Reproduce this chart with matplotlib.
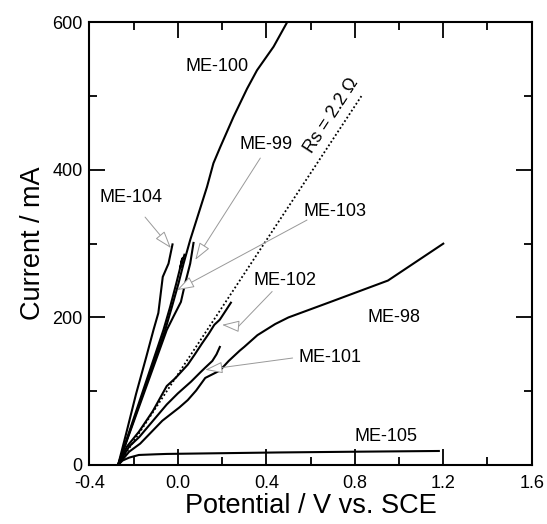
import matplotlib
matplotlib.use("Agg")
import matplotlib.pyplot as plt
from matplotlib.ticker import MultipleLocator

plt.rcParams['font.family'] = ['Liberation Sans', 'DejaVu Sans']

# polarization curves, potential (V vs SCE) / current (mA)
me100_x = [-0.27, -0.057, -0.027, 0.003, 0.026, 0.056, 0.094, 0.132, 0.161, 0.192, 0.252, 0.313, 0.358, 0.433, 0.494]
me100_y = [0, 183, 214, 246, 273, 305, 341, 377, 409, 431, 472, 510, 535, 567, 600]

me104_x = [-0.27, -0.234, -0.189, -0.143, -0.11, -0.088, -0.077, -0.068, -0.042, -0.024]
me104_y = [0, 42, 96, 146, 183, 206, 233, 255, 273, 299]

me99_x = [-0.27, -0.05, -0.02, 0.014, 0.033, 0.056, 0.071]
me99_y = [0, 183, 201, 221, 246, 273, 301]

me103_x = [-0.27, -0.065, -0.035, -0.007, 0.008, 0.02, 0.012, 0.030]
me103_y = [0, 183, 214, 246, 264, 280, 268, 285]

me102_x = [-0.27, -0.23, -0.176, -0.113, -0.05, -0.01, 0.045, 0.077, 0.11, 0.14, 0.165, 0.19, 0.214, 0.240]
me102_y = [0, 25, 45, 73, 107, 118, 136, 150, 165, 178, 190, 197, 208, 220]

me101_x = [-0.27, -0.22, -0.174, -0.098, -0.05, 0.0, 0.06, 0.10, 0.124, 0.156, 0.175, 0.19]
me101_y = [0, 25, 38, 65, 82, 97, 113, 125, 132, 141, 150, 160]

me98_x = [-0.27, -0.22, -0.17, -0.07, 0.007, 0.045, 0.083, 0.124, 0.19, 0.23, 0.28, 0.30, 0.36, 0.44, 0.50, 0.69, 0.95, 1.20]
me98_y = [0, 18, 29, 60, 78, 88, 101, 118, 128, 141, 155, 160, 176, 191, 200, 221, 250, 300]

me105_x = [-0.27, -0.25, -0.22, -0.176, -0.10, -0.05, 0.2, 0.456, 0.8, 1.18]
me105_y = [0, 6, 10, 13.6, 14.5, 15, 16, 17, 18, 19]

rs_x = [-0.27, 0.83]
rs_y = [0, 500]

# plain labels: text, x, y
labels = [("ME-100", 0.177, 540), ("ME-98", 0.977, 200), ("ME-105", 0.94, 38.6)]

# arrow labels: text, label pos, arrow tail, arrow tip
arrow_labels = [
    ("ME-104", (-0.211, 363), (-0.148, 336), (-0.031, 294)),
    ("ME-99", (0.400, 434), (0.373, 416), (0.079, 278)),
    ("ME-103", (0.712, 343), (0.584, 332), (-0.004, 237)),
    ("ME-101", (0.689, 146), (0.519, 145), (0.124, 129)),
]
# ME-102 arrow has a bend
me102_label = (0.486, 250)
me102_path_x = [0.426, 0.275]
me102_path_y = [235, 188]
me102_tip = (0.20, 190)

fig = plt.figure(figsize=(5.47, 5.24), dpi=100)
ax = fig.add_axes([0.1633, 0.1126, 0.8088, 0.8448])

for xs, ys in [(me100_x, me100_y), (me104_x, me104_y), (me99_x, me99_y),
               (me103_x, me103_y), (me102_x, me102_y), (me101_x, me101_y),
               (me98_x, me98_y), (me105_x, me105_y)]:
    ax.plot(xs, ys, color='black', lw=1.5)

ax.plot(rs_x, rs_y, color='black', lw=1.3, linestyle=(0, (1, 1.3)))
ax.text(0.693, 473, "Rs = 2.2 Ω", rotation=57, fontsize=13,
        ha='center', va='center', rotation_mode='anchor')

for t, x, y in labels:
    ax.text(x, y, t, fontsize=13, ha='center', va='center')

aprops = dict(arrowstyle="-|>,head_length=0.9,head_width=0.3", mutation_scale=12,
              fc='white', ec='#999999', lw=0.7, shrinkA=0, shrinkB=0)
for t, lpos, tail, tip in arrow_labels:
    ax.text(lpos[0], lpos[1], t, fontsize=13, ha='center', va='center')
    ax.annotate("", xy=tip, xytext=tail, arrowprops=aprops)

ax.text(me102_label[0], me102_label[1], "ME-102", fontsize=13, ha='center', va='center')
ax.plot(me102_path_x, me102_path_y, color='#999999', lw=0.7)
ax.annotate("", xy=me102_tip, xytext=(me102_path_x[-1], me102_path_y[-1]), arrowprops=aprops)

ax.set_xlim(-0.4, 1.6)
ax.set_ylim(0, 600)
ax.xaxis.set_major_locator(MultipleLocator(0.4))
ax.xaxis.set_minor_locator(MultipleLocator(0.2))
ax.yaxis.set_major_locator(MultipleLocator(200))
ax.yaxis.set_minor_locator(MultipleLocator(100))
ax.xaxis.set_major_formatter(plt.FuncFormatter(lambda v, p: "%.1f" % v))
ax.tick_params(which='both', direction='in', top=True, right=True, labelsize=13, width=1.3)
ax.tick_params(which='major', length=11.3)
ax.tick_params(which='minor', length=5.8)
ax.tick_params(axis='x', pad=7)
ax.tick_params(axis='y', pad=5)
for s in ax.spines.values():
    s.set_linewidth(1.5)

ax.set_xlabel("Potential / V vs. SCE", fontsize=19.5, labelpad=1)
ax.set_ylabel("Current / mA", fontsize=19.5, labelpad=4)

fig.savefig("out.png", dpi=100)
